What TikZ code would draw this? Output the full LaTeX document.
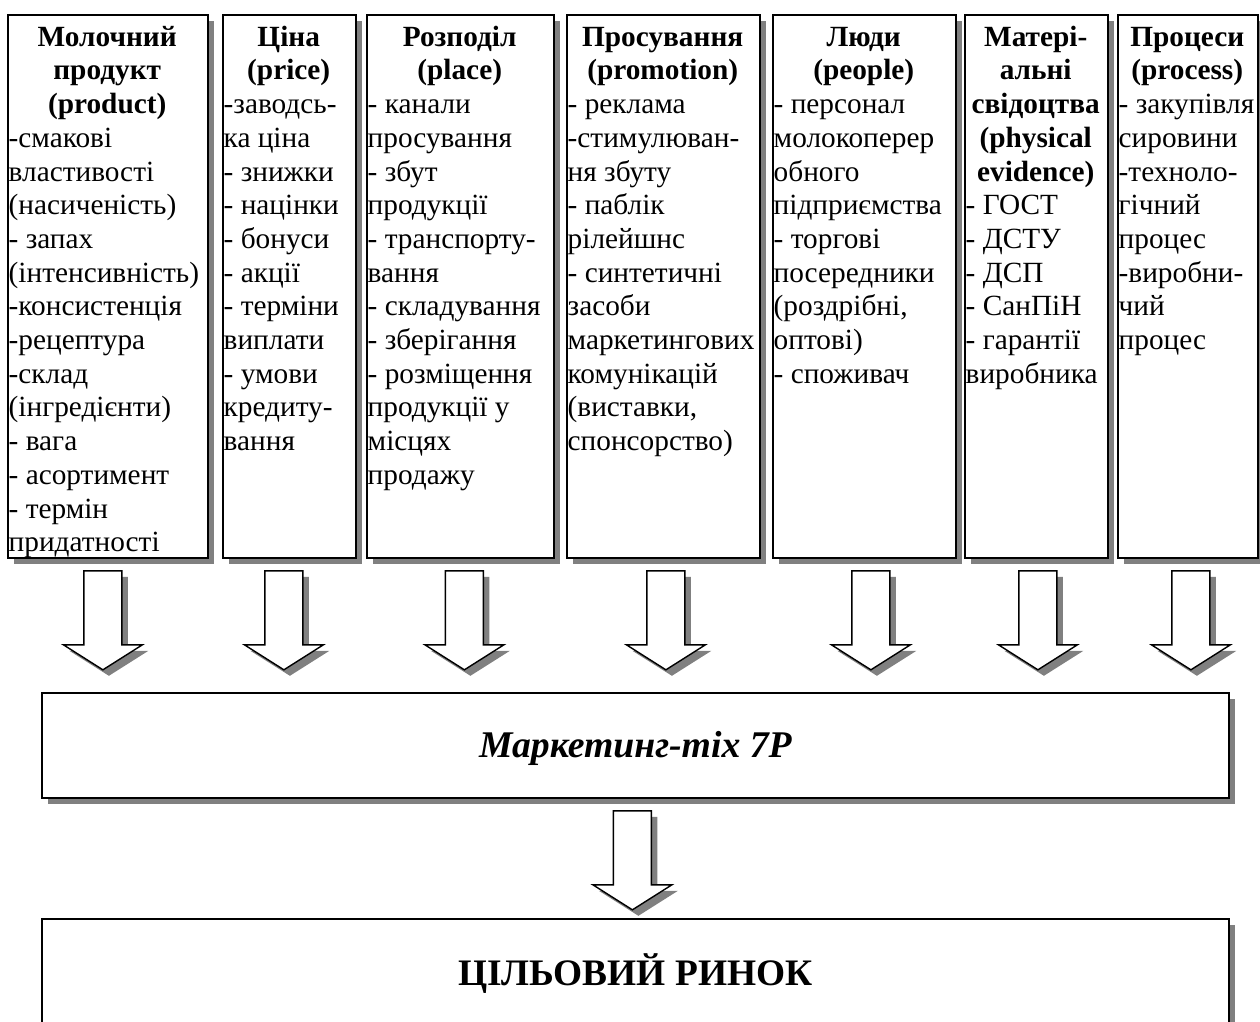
\documentclass[tikz,border=0pt]{standalone}
\usepackage{fontspec}
\setmainfont{Liberation Serif}
\usetikzlibrary{shadows}
\newcommand\colhd[2]{\makebox[#1pt][c]{\bfseries #2}}
\newcommand\firsthd[2]{\rule{0pt}{26pt}\colhd{#1}{#2}}
\newcommand\blockarrow[1]{%
  \filldraw[arrowbody] ([shift={(-19,0)}]#1) -- ++(38,0) -- ++(0,74) -- ++(20.5,0)
    -- ++(-39.5,25) -- ++(-39.5,-25) -- ++(20.5,0) -- cycle;}
\begin{document}
\begin{tikzpicture}[x=1pt,y=-1pt,
  shad/.style={drop shadow={shadow xshift=6pt,shadow yshift=-6pt,fill=black!50,opacity=1}},
  colbox/.style={draw,line width=1.8pt,fill=white,shad,inner sep=0pt,anchor=north west,minimum height=543pt},
  coltext/.style={anchor=north west,inner sep=0pt,align=left,font=\fontsize{29.3pt}{33.7pt}\selectfont},
  widebox/.style={draw,line width=1.8pt,fill=white,shad,inner sep=0pt,anchor=north west,minimum width=1187pt},
  arrowbody/.style={fill=white,draw=black,line width=1.4pt,line join=miter,shad}]
\useasboundingbox (0,0) rectangle (1260,1021);

% column boxes
\node[colbox,minimum width=200pt] (c1) at (7,14) {};
\node[colbox,minimum width=133pt] (c2) at (222,14) {};
\node[colbox,minimum width=187pt] (c3) at (366,14) {};
\node[colbox,minimum width=193pt] (c4) at (566,14) {};
\node[colbox,minimum width=183pt] (c5) at (772,14) {};
\node[colbox,minimum width=143pt] (c6) at (964,14) {};
\node[colbox,minimum width=140pt] (c7) at (1117,14) {};

% column texts
\node[coltext] (t1) at ([shift={(1.5,6)}]c1.north west) {%
\firsthd{197}{Молочний}\\ \colhd{197}{продукт}\\ \colhd{197}{(product)}\\
-смакові\\ властивості\\ (насиченість)\\ - запах\\ (інтенсивність)\\ -консистенція\\
-рецептура\\ -склад\\ (інгредієнти)\\ - вага\\ - асортимент\\ - термін\\ придатності};

\node[coltext] (t2) at ([shift={(1.5,6)}]c2.north west) {%
\firsthd{130}{Ціна}\\ \colhd{130}{(price)}\\
-заводсь-\\ ка ціна\\ - знижки\\ - націнки\\ - бонуси\\ - акції\\ - терміни\\ виплати\\
- умови\\ кредиту-\\ вання};

\node[coltext] (t3) at ([shift={(1.5,6)}]c3.north west) {%
\firsthd{184}{Розподіл}\\ \colhd{184}{(place)}\\
- канали\\ просування\\ - збут\\ продукції\\ - транспорту-\\ вання\\ - складування\\
- зберігання\\ - розміщення\\ продукції у\\ місцях\\ продажу};

\node[coltext] (t4) at ([shift={(1.5,6)}]c4.north west) {%
\firsthd{190}{Просування}\\ \colhd{190}{(promotion)}\\
- реклама\\ -стимулюван-\\ ня збуту\\ - паблік\\ рілейшнс\\ - синтетичні\\ засоби\\
маркетингових\\ комунікацій\\ (виставки,\\ спонсорство)};

\node[coltext] (t5) at ([shift={(1.5,6)}]c5.north west) {%
\firsthd{180}{Люди}\\ \colhd{180}{(people)}\\
- персонал\\ молокоперер\\ обного\\ підприємства\\ - торгові\\ посередники\\
(роздрібні,\\ оптові)\\ - споживач};

\node[coltext] (t6) at ([shift={(1.5,6)}]c6.north west) {%
\firsthd{140}{Матері-}\\ \colhd{140}{альні}\\ \colhd{140}{свідоцтва}\\
\colhd{140}{(physical}\\ \colhd{140}{evidence)}\\
- ГОСТ\\ - ДСТУ\\ - ДСП\\ - СанПіН\\ - гарантії\\ виробника};

\node[coltext] (t7) at ([shift={(1.5,6)}]c7.north west) {%
\firsthd{137}{Процеси}\\ \colhd{137}{(process)}\\
- закупівля\\ сировини\\ -техноло-\\ гічний\\ процес\\ -виробни-\\ чий\\ процес};

% marketing mix box
\node[widebox,minimum height=105pt] (mm) at (41,692) {};
\node[anchor=base,inner sep=0pt,font=\fontsize{37.7pt}{40pt}\selectfont\bfseries\itshape]
  (mmt) at (mm.center |- 0,757) {Маркетинг-mix 7P};

% target market box
\node[widebox,minimum height=140pt] (tm) at (41,918) {};
\node[anchor=base,inner sep=0pt,font=\fontsize{37.4pt}{40pt}\selectfont\bfseries]
  (tmt) at (tm.north |- 0,985) {ЦІЛЬОВИЙ РИНОК};

% connector start points
\path (c1.south) ++(-5,12) coordinate (a1);
\path (c2.south) ++(-5.5,12) coordinate (a2);
\path (c3.south) ++(4,12) coordinate (a3);
\path (c4.south) ++(2.5,12) coordinate (a4);
\path (c5.south) ++(6.5,12) coordinate (a5);
\path (c6.south) ++(1.5,12) coordinate (a6);
\path (c7.south) ++(3,12) coordinate (a7);
\path (mm.south) ++(-3,12) coordinate (a8);

\blockarrow{a1}
\blockarrow{a2}
\blockarrow{a3}
\blockarrow{a4}
\blockarrow{a5}
\blockarrow{a6}
\blockarrow{a7}
\blockarrow{a8}
\end{tikzpicture}
\end{document}
